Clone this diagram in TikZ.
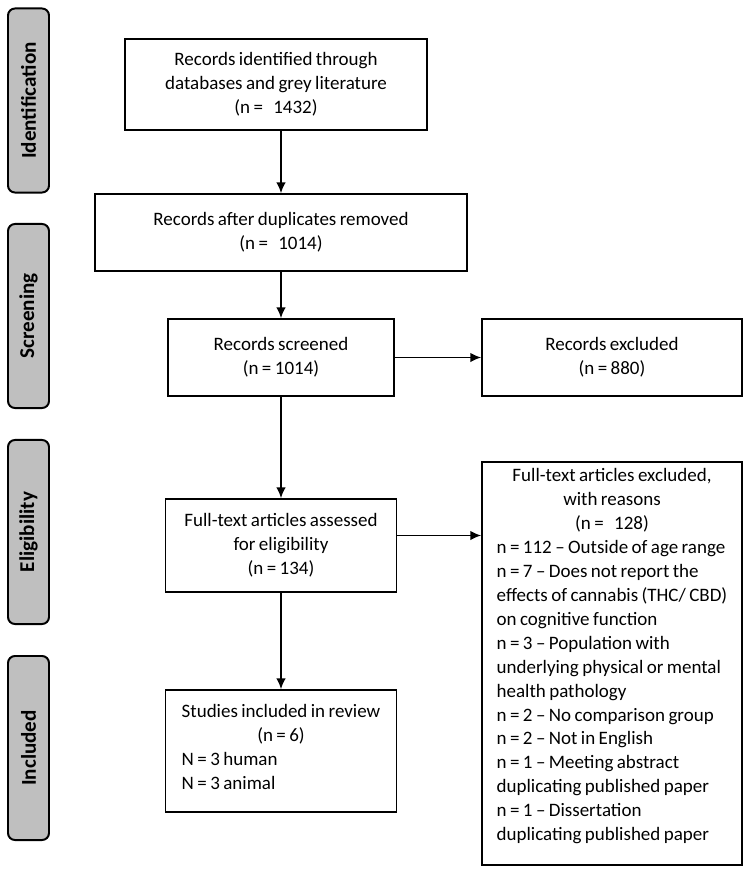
\documentclass[tikz,border=0pt]{standalone}
\usepackage{fontspec}
\setmainfont{Carlito}[WordSpace=0.8]
\usetikzlibrary{arrows.meta}
\tikzset{
    box/.style={draw, line width=1.2pt, align=center, inner sep=0pt, font=\fontsize{13.5}{17}\selectfont},
    stage/.style={draw, line width=1.4pt, fill=gray!50, rounded corners=5pt, rotate=90,
        minimum width=4.6cm, minimum height=1.025cm, inner sep=0pt, font=\fontsize{15}{17}\selectfont\bfseries},
    flow/.style={line width=1.1pt, -{Latex[length=0.27cm, width=0.24cm]}}
}

\begin{document}
\begin{tikzpicture}[x=0.025cm,y=-0.025cm]
\useasboundingbox (0,0) rectangle (750,875); % page size
% stages on the left
\node[stage] (ident) at (28.5,100.5) {Identification};
\node[stage] (screen) at (28.5,316) {Screening};
\node[stage] (elig) at (28.5,532) {Eligibility};
\node[stage] (incl) at (28.5,748) {Included};
% main column
\node[box, minimum width=7.55cm, minimum height=2.275cm] (found) at (276,84.5) {Records identified through\\databases and grey literature\\(n =~~~1432)};
\node[box, minimum width=9.3cm, minimum height=1.925cm] (dedup) at (281,232.5) {Records after duplicates removed\\(n =~~~1014)};
\node[box, minimum width=5.65cm, minimum height=1.925cm] (screened) at (281,357.5) {Records screened\\(n = 1014)};
\node[box, minimum width=5.775cm, minimum height=2.325cm] (fulltext) at (281,545.5) {Full-text articles assessed\\for eligibility\\(n = 134)};
\node[box, minimum width=5.775cm, minimum height=3.05cm] (studies) at (281,751) {\begin{tabular}{@{}l@{}}
\multicolumn{1}{@{}c@{}}{Studies included in review}\\
\multicolumn{1}{@{}c@{}}{(n = 6)}\\
N = 3 human\\
N = 3 animal\\[0.1cm]
\end{tabular}};
% exclusions on the right
\node[box, minimum width=6.5cm, minimum height=10.075cm] (reasons) at (612,663.5) {\begin{tabular}{@{}l@{}}
\multicolumn{1}{@{}c@{}}{Full-text articles excluded,}\\
\multicolumn{1}{@{}c@{}}{with reasons}\\
\multicolumn{1}{@{}c@{}}{(n =~~~128)}\\
n = 112 -- Outside of age range\\
n = 7 -- Does not report the\\
effects of cannabis (THC/ CBD)\\
on cognitive function\\
n = 3 -- Population with\\
underlying physical or mental\\
health pathology\\
n = 2 -- No comparison group\\
n = 2 -- Not in English\\
n = 1 -- Meeting abstract\\
duplicating published paper\\
n = 1 -- Dissertation\\
duplicating published paper\\[0.35cm]
\end{tabular}};
\node[box, minimum width=6.5cm, minimum height=1.925cm] (excl) at (612,357.5) {Records excluded\\(n = 880)};
% arrows
\draw[flow] (found.south -| dedup.north) -- (dedup.north);
\draw[flow] (dedup.south) -- (screened.north);
\draw[flow] (screened.south) -- (fulltext.north);
\draw[flow] (fulltext.south) -- (studies.north);
\draw[flow] (screened.east) -- (excl.west);
\draw[flow] ([yshift=0.25cm]fulltext.east) -- ([yshift=0.25cm]fulltext.east -| reasons.west); % to reasons
\end{tikzpicture}
\end{document}
